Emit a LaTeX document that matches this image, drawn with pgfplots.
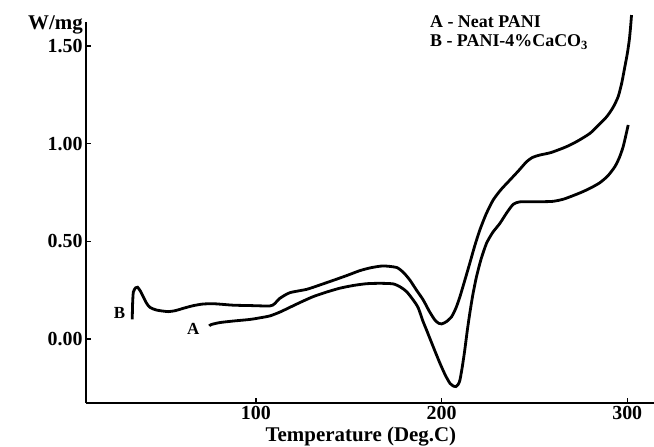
\documentclass[border=0pt]{standalone}
\usepackage{fontspec}
\setmainfont{Liberation Serif}
\usepackage{pgfplots}
\pgfplotsset{compat=1.18}

% A: neat PANI, B: PANI-4%CaCO3
\pgfplotstableread{
x y
74.9 0.067
76.0 0.074
80.6 0.084
88.0 0.092
96.8 0.100
102.0 0.108
107.5 0.118
113.0 0.138
118.3 0.162
124.5 0.190
130.9 0.217
138.0 0.240
145.2 0.260
152.5 0.274
159.6 0.283
167.0 0.285
174.0 0.282
178.0 0.265
181.2 0.242
184.7 0.200
187.4 0.160
190.0 0.090
191.9 0.046
195.5 -0.040
199.1 -0.124
202.0 -0.185
204.5 -0.227
206.5 -0.242
207.7 -0.244
209.0 -0.232
209.9 -0.210
211.2 -0.140
212.5 -0.056
213.8 0.040
215.2 0.132
216.9 0.230
218.8 0.319
221.3 0.410
224.2 0.490
227.5 0.545
231.4 0.592
235.0 0.645
238.6 0.690
242.0 0.702
247.5 0.703
254.0 0.703
260.1 0.705
266.0 0.717
274.5 0.748
280.0 0.772
285.2 0.800
289.5 0.835
293.3 0.882
295.8 0.930
297.8 0.985
299.3 1.045
300.5 1.096
}\neatpani

\pgfplotstableread{
x y
33.4 0.100
33.6 0.180
34.0 0.240
35.2 0.262
36.3 0.265
37.8 0.245
39.3 0.217
41.0 0.185
42.9 0.162
46.5 0.148
52.8 0.140
57.0 0.146
60.9 0.157
66.0 0.170
71.6 0.179
78.0 0.180
87.8 0.173
97.0 0.171
107.5 0.169
110.0 0.180
112.9 0.208
118.3 0.237
127.3 0.254
134.0 0.275
141.6 0.300
149.0 0.325
156.0 0.350
162.0 0.365
168.6 0.374
175.8 0.366
179.5 0.340
182.9 0.302
186.5 0.250
190.1 0.200
193.5 0.140
196.4 0.097
198.5 0.080
200.0 0.077
202.5 0.088
205.4 0.114
207.8 0.160
209.9 0.217
212.5 0.300
215.2 0.388
217.8 0.475
220.6 0.558
224.0 0.640
227.8 0.712
232.0 0.765
236.8 0.814
241.5 0.862
245.8 0.908
249.0 0.930
252.9 0.942
259.0 0.955
267.3 0.985
273.5 1.015
279.9 1.053
284.5 1.095
288.9 1.138
292.3 1.185
295.1 1.241
297.0 1.310
298.7 1.394
300.0 1.460
301.1 1.531
301.8 1.600
302.3 1.659
}\pacaco

\begin{document}
\begin{tikzpicture}
\begin{axis}[
  width=568bp, height=381.3bp, scale only axis,
  xmin=8.5, xmax=314.4, ymin=-0.328, ymax=1.625,
  axis lines=left,
  axis line style={-, line width=1.3bp},
  tick align=inside,
  major tick length=5bp,
  every tick/.style={black, line width=1.3bp},
  xtick={100,200,300},
  xticklabels={100,200,300},
  ytick={0,0.5,1,1.5},
  yticklabels={0.00,0.50,1.00,1.50},
  ticklabel style={font=\fontsize{20}{20}\selectfont\bfseries},
  xlabel={Temperature (Deg.C)},
  xlabel style={at={(rel axis cs:0.484,0)}, anchor=center, yshift=-34bp,
    font=\fontsize{21}{21}\selectfont\bfseries},
  ylabel={W/mg},
  ylabel style={rotate=-90, at={(rel axis cs:0,1)}, anchor=base east,
    xshift=-3bp, yshift=-7.5bp, inner sep=0pt,
    font=\fontsize{21}{21}\selectfont\bfseries},
  clip=false,
]
\addplot[black, line width=2.8bp, smooth, tension=0.4] table {\neatpani};
\addplot[black, line width=2.8bp, smooth, tension=0.4] table {\pacaco};

\node[font=\fontsize{17}{17}\selectfont\bfseries] at (axis cs:26.5,0.131) {B};
\node[font=\fontsize{17}{17}\selectfont\bfseries] at (axis cs:66.3,0.051) {A};
\node[anchor=base west, inner sep=0pt, font=\fontsize{18}{18}\selectfont\bfseries]
  at (axis cs:193.7,1.594) {A - Neat PANI};
\node[anchor=base west, inner sep=0pt, font=\fontsize{18}{18}\selectfont\bfseries]
  at (axis cs:193.7,1.497) {B - PANI-4\%CaCO$_\mathbf{3}$};

\coordinate (bl) at (rel axis cs:0,0);
\coordinate (tr) at (rel axis cs:1,1);
\end{axis}
\pgfresetboundingbox
\path[use as bounding box] ([xshift=-86bp,yshift=-44bp]bl) rectangle ([yshift=21.7bp]tr);
\end{tikzpicture}
\end{document}
